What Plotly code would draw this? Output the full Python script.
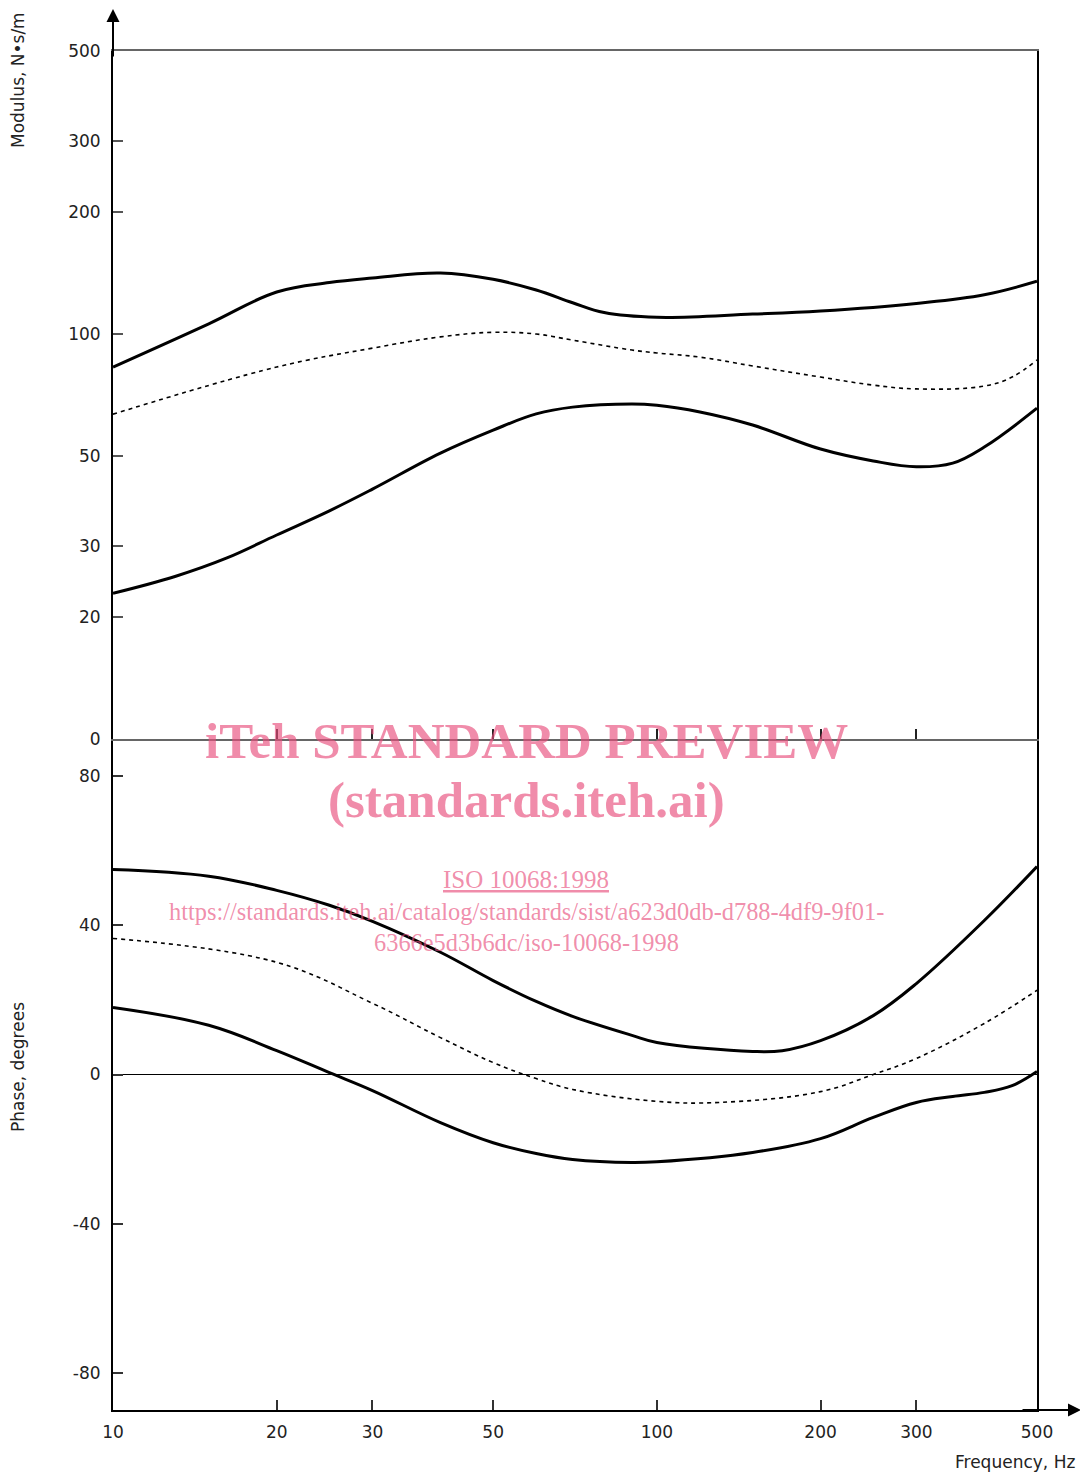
import plotly.graph_objects as go
import numpy as np

# ---------------- data ----------------
freq_mod_upper = [10, 15, 20, 25, 30, 40, 50, 60, 70, 80, 100, 150, 200, 300, 400, 500]
mod_upper = [82.9, 106, 127, 134, 137.5, 141.5, 136.5, 128.5, 119.5, 113, 110, 112, 114, 119, 125, 135]

freq_mod_mid = [10, 20, 30, 40, 50, 60, 70, 90, 100, 120, 150, 200, 250, 300, 400, 450, 500]
mod_mid = [63.4, 82.9, 92.3, 98.4, 101, 100, 96.6, 91.3, 89.8, 87.7, 83.4, 78.3, 74.8, 73.2, 74.4, 78.3, 86.3]

freq_mod_lower = [10, 13, 16.2, 20, 25, 30, 40, 50, 60, 70, 90, 100, 120, 150, 200, 250, 300, 350, 400, 500]
mod_lower = [22.9, 25.2, 28.0, 31.9, 36.6, 41.4, 50.8, 57.9, 63.5, 66.0, 67.2, 66.7, 64.2, 59.6, 52, 48.6, 47, 48, 52.6, 65.6]

freq_ph_upper = [10, 15, 20, 25, 30, 40, 50, 60, 70, 90, 100, 150, 170, 200, 250, 300, 400, 500]
ph_upper = [55.0, 53.2, 49.4, 45.4, 41.1, 32.8, 25.2, 19.6, 15.6, 10.5, 8.6, 6.2, 6.4, 9.1, 15.8, 24.4, 41.3, 55.8]

freq_ph_mid = [10, 20, 30, 40, 50, 60, 70, 100, 130, 200, 250, 300, 400, 500]
ph_mid = [36.5, 30.1, 19.1, 9.9, 3.2, -1.1, -4.0, -7.2, -7.5, -4.6, 0, 4.3, 13.7, 22.6]

freq_ph_lower = [10, 15, 20, 25, 30, 40, 50, 60, 70, 90, 100, 150, 200, 250, 300, 350, 400, 450, 500]
ph_lower = [18.0, 13.2, 6.4, 0.5, -4.3, -12.9, -18.3, -21.2, -22.8, -23.6, -23.4, -20.9, -17.2, -11.5, -7.5, -5.9, -4.8, -3.0, 0.8]

x_tickvals = [10, 20, 30, 50, 100, 200, 300, 500]
x_ticktext = ["10", "20", "30", "50", "100", "200", "300", "500"]
mod_tickvals = [10, 20, 30, 50, 100, 200, 300, 500]
mod_ticktext = ["0", "20", "30", "50", "100", "200", "300", "500"]
ph_tickvals = [-80, -40, 0, 40, 80]
ph_ticktext = ["-80", "-40", "0", "40", "80"]

# ---------------- figure ----------------
OFF = 8  # browser body margin
W, H = 1088 - OFF, 1474 - OFF
L, R, T, B = 113 - OFF, 51, 51 - OFF, 64
split = (1410 - 739) / (1410 - 51)

solid = dict(color="black", width=3, smoothing=1.1)
dashed = dict(color="black", width=1.6, dash="4px,4px", smoothing=1.1)

fig = go.Figure()
fig.add_trace(go.Scatter(x=freq_mod_upper, y=mod_upper, mode="lines", line=solid,
                         line_shape="spline", xaxis="x2", yaxis="y2"))
fig.add_trace(go.Scatter(x=freq_mod_mid, y=mod_mid, mode="lines", line=dashed,
                         line_shape="spline", xaxis="x2", yaxis="y2"))
fig.add_trace(go.Scatter(x=freq_mod_lower, y=mod_lower, mode="lines", line=solid,
                         line_shape="spline", xaxis="x2", yaxis="y2"))
fig.add_trace(go.Scatter(x=freq_ph_upper, y=ph_upper, mode="lines", line=solid,
                         line_shape="spline", xaxis="x", yaxis="y"))
fig.add_trace(go.Scatter(x=freq_ph_mid, y=ph_mid, mode="lines", line=dashed,
                         line_shape="spline", xaxis="x", yaxis="y"))
fig.add_trace(go.Scatter(x=freq_ph_lower, y=ph_lower, mode="lines", line=solid,
                         line_shape="spline", xaxis="x", yaxis="y"))

tickfont = dict(family="DejaVu Sans", size=17, color="#222")

fig.update_layout(
    width=W, height=H,
    margin=dict(l=L, r=R, t=T, b=B, pad=0),
    paper_bgcolor="white", plot_bgcolor="white",
    showlegend=False,
    xaxis=dict(type="log", range=[1, np.log10(500)], domain=[0, 1], anchor="y",
               tickvals=x_tickvals, ticktext=x_ticktext, ticks="inside", ticklen=10,
               tickcolor="#333", tickwidth=1.5, showgrid=False, zeroline=False,
               showline=True, linecolor="black", linewidth=2, mirror=False,
               tickfont=tickfont, ticklabelstandoff=6),
    yaxis=dict(range=[-90, 90], domain=[0, split], anchor="x",
               tickvals=ph_tickvals, ticktext=ph_ticktext, ticks="inside", ticklen=10,
               tickcolor="#333", tickwidth=1.5, showgrid=False,
               zeroline=True, zerolinecolor="black", zerolinewidth=1,
               showline=True, linecolor="black", linewidth=2, mirror=True,
               tickfont=tickfont, ticklabelstandoff=7),
    xaxis2=dict(type="log", range=[1, np.log10(500)], domain=[0, 1], anchor="y2",
                matches="x", tickvals=[20, 30, 50, 100, 200, 300], showticklabels=False,
                ticks="inside", ticklen=10, tickcolor="#222", tickwidth=1.5,
                showgrid=False, zeroline=False,
                showline=True, linecolor="#666", linewidth=2, mirror=True),
    yaxis2=dict(type="log", range=[1, np.log10(500)], domain=[split, 1], anchor="x2",
                tickvals=mod_tickvals, ticktext=mod_ticktext, ticks="inside", ticklen=10,
                tickcolor="#555", tickwidth=1.5, showgrid=False, zeroline=False,
                showline=True, linecolor="black", linewidth=2, mirror=True,
                tickfont=tickfont, ticklabelstandoff=7),
)

ph = 1410 - 51
pw = 1037 - 113
def px_x(p):
    return (p - 113) / pw
def px_y(p):
    return (1410 - p) / ph

# axis arrows
fig.add_annotation(xref="paper", yref="paper", x=0, y=px_y(8), ax=0, ay=50,
                   axref="pixel", ayref="pixel", text="", showarrow=True,
                   arrowhead=2, arrowsize=1.3, arrowwidth=2, arrowcolor="black")
fig.add_annotation(xref="paper", yref="paper", x=px_x(1081), y=0, ax=-60, ay=0,
                   axref="pixel", ayref="pixel", text="", showarrow=True,
                   arrowhead=2, arrowsize=1.3, arrowwidth=2, arrowcolor="black")

labfont = dict(family="DejaVu Sans", size=17, color="#222")
fig.add_annotation(xref="paper", yref="paper", x=px_x(18), y=px_y(80), text="Modulus, N•s/m",
                   textangle=-90, showarrow=False, font=labfont,
                   xanchor="center", yanchor="middle")
fig.add_annotation(xref="paper", yref="paper", x=px_x(18), y=px_y(1067), text="Phase, degrees",
                   textangle=-90, showarrow=False, font=labfont,
                   xanchor="center", yanchor="middle")
fig.add_annotation(xref="paper", yref="paper", x=px_x(1015), y=px_y(1462), text="Frequency, Hz",
                   showarrow=False, font=labfont, xanchor="center", yanchor="middle")

# watermark
wm = "rgba(232,78,124,0.65)"
fig.add_annotation(xref="paper", yref="paper", x=px_x(526), y=px_y(741),
                   text="<b>iTeh STANDARD PREVIEW</b>", showarrow=False,
                   xanchor="center", yanchor="middle",
                   font=dict(family="Liberation Serif", size=51, color=wm))
fig.add_annotation(xref="paper", yref="paper", x=px_x(526), y=px_y(800),
                   text="<b>(standards.iteh.ai)</b>", showarrow=False,
                   xanchor="center", yanchor="middle",
                   font=dict(family="Liberation Serif", size=51, color=wm))
fig.add_annotation(xref="paper", yref="paper", x=px_x(526), y=px_y(879),
                   text="<u>ISO 10068:1998</u>", showarrow=False,
                   xanchor="center", yanchor="middle",
                   font=dict(family="Liberation Serif", size=25, color=wm))
fig.add_annotation(xref="paper", yref="paper", x=px_x(526), y=px_y(911),
                   text="https://standards.iteh.ai/catalog/standards/sist/a623d0db-d788-4df9-9f01-",
                   showarrow=False, xanchor="center", yanchor="middle",
                   font=dict(family="Liberation Serif", size=24.4, color=wm))
fig.add_annotation(xref="paper", yref="paper", x=px_x(526), y=px_y(943),
                   text="6366e5d3b6dc/iso-10068-1998",
                   showarrow=False, xanchor="center", yanchor="middle",
                   font=dict(family="Liberation Serif", size=24.4, color=wm))

fig.write_html("out.html")
